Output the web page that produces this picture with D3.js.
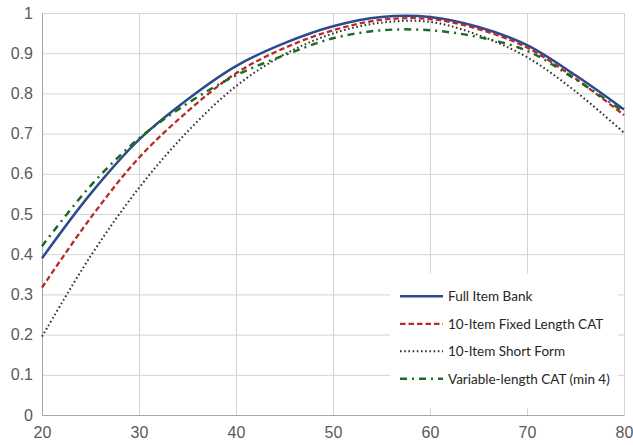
<!DOCTYPE html>
<html>
<head>
<meta charset="utf-8">
<script src="https://d3js.org/d3.v7.min.js"></script>
<style>
  body { margin: 0; background: #fff; }
  svg { display: block; font-family: Lato, "Open Sans", sans-serif; }
  .grid line { stroke: #d4d4d4; stroke-width: 1; }
  .axis text { fill: #595959; font-size: 16px; }
  .legend text { fill: #262626; font-size: 13.5px; }
</style>
</head>
<body>
<script>
// values
var xValues = [20, 25, 30, 35, 40, 45, 50, 55, 60, 65, 70, 75, 80];
var fullBank = [0.39, 0.55, 0.685, 0.785, 0.868, 0.925, 0.967, 0.99, 0.99, 0.965, 0.92, 0.845, 0.76];
var fixedCat = [0.317, 0.49, 0.64, 0.755, 0.85, 0.913, 0.957, 0.983, 0.985, 0.96, 0.914, 0.837, 0.746];
var shortForm = [0.195, 0.395, 0.565, 0.705, 0.818, 0.897, 0.949, 0.976, 0.978, 0.945, 0.89, 0.805, 0.702];
var variableCat = [0.42, 0.57, 0.688, 0.775, 0.845, 0.895, 0.937, 0.957, 0.957, 0.94, 0.906, 0.835, 0.754];
var seriesNames = ["Full Item Bank", "10-Item Fixed Length CAT", "10-Item Short Form", "Variable-length CAT (min 4)"];
var xTicks = [20, 30, 40, 50, 60, 70, 80];
var yTicks = [0, 0.1, 0.2, 0.3, 0.4, 0.5, 0.6, 0.7, 0.8, 0.9, 1];

var styles = [
  {color: "#2c4a8e", width: 2.5, dash: null},
  {color: "#b8292b", width: 2.3, dash: "5.5,3"},
  {color: "#303030", width: 2, dash: "1.6,2.6"},
  {color: "#1d6a22", width: 2.5, dash: "7,5,2,5"}
];

var margin = {top: 13, right: 9, bottom: 30, left: 42},
    width = 633 - margin.left - margin.right,
    height = 445 - margin.top - margin.bottom;

var x = d3.scaleLinear().domain([20, 80]).range([0, width]);
var y = d3.scaleLinear().domain([0, 1]).range([height, 0]);

var svg = d3.select("body").append("svg")
  .attr("width", 633).attr("height", 445)
  .append("g").attr("transform", "translate(" + margin.left + "," + margin.top + ")");

// grid
svg.append("g").attr("class", "grid")
  .call(d3.axisLeft(y).tickValues(yTicks).tickSize(-width).tickFormat(""))
  .call(function(g) { g.select(".domain").remove(); });
svg.append("g").attr("class", "grid")
  .attr("transform", "translate(0," + height + ")")
  .call(d3.axisBottom(x).tickValues(xTicks).tickSize(-height).tickFormat(""))
  .call(function(g) { g.select(".domain").remove(); });

// axes
svg.append("g").attr("class", "axis")
  .call(d3.axisLeft(y).tickValues(yTicks).tickSize(0).tickPadding(9).tickFormat(d3.format("")));
svg.append("g").attr("class", "axis")
  .attr("transform", "translate(0," + height + ")")
  .call(d3.axisBottom(x).tickValues(xTicks).tickSize(0).tickPadding(12));
svg.selectAll(".axis .domain").attr("stroke", "#a6a6a6");

var line = d3.line()
  .x(function(d) { return x(d[0]); })
  .y(function(d) { return y(d[1]); })
  .curve(d3.curveCatmullRom.alpha(0.5));

var allSeries = [fullBank, fixedCat, shortForm, variableCat];
allSeries.forEach(function(vals, i) {
  svg.append("path")
    .datum(xValues.map(function(v, j) { return [v, vals[j]]; }))
    .attr("fill", "none")
    .attr("stroke", styles[i].color)
    .attr("stroke-width", styles[i].width)
    .attr("stroke-dasharray", styles[i].dash)
    .attr("d", line);
});

// legend
var legend = svg.append("g").attr("class", "legend")
  .attr("transform", "translate(" + 348 + "," + (y(0.35) - 1) + ")");
legend.append("rect")
  .attr("width", 228).attr("height", 135)
  .attr("fill", "#fff");
seriesNames.forEach(function(name, i) {
  var yy = 23 + i * 27.5;
  legend.append("line")
    .attr("x1", 10).attr("x2", 53).attr("y1", yy).attr("y2", yy)
    .attr("stroke", styles[i].color)
    .attr("stroke-width", styles[i].width)
    .attr("stroke-dasharray", styles[i].dash);
  legend.append("text")
    .attr("x", 58).attr("y", yy).attr("dy", "0.35em")
    .text(name);
});
</script>
</body>
</html>
